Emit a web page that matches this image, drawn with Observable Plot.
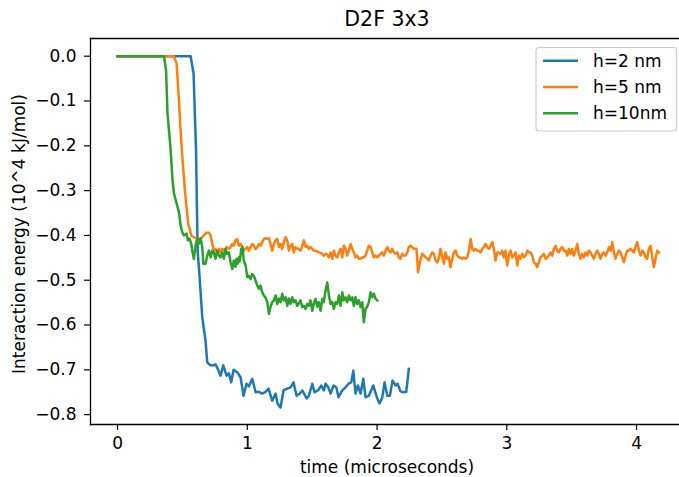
<!DOCTYPE html>
<html>
<head>
<meta charset="utf-8">
<script src="https://cdn.jsdelivr.net/npm/d3@7"></script>
<script src="https://cdn.jsdelivr.net/npm/@observablehq/plot@0.6"></script>
<style>
  html, body { margin: 0; padding: 0; background: #fff; }
  #chart { width: 679px; height: 477px; }
</style>
</head>
<body>
<div id="chart"></div>
<script>
const title = "D2F 3x3";
const xLabel = "time (microseconds)";
const yLabel = "Interaction energy (10^4 kJ/mol)";
const seriesNames = ["h=2 nm", "h=5 nm", "h=10nm"];
const seriesColors = ["#1f77b4", "#ff7f0e", "#2ca02c"];
const xTicks = [0, 1, 2, 3, 4];
const yTicks = [0.0, -0.1, -0.2, -0.3, -0.4, -0.5, -0.6, -0.7, -0.8];

// [time (µs), energy (10^4 kJ/mol)]
const h2 = [[0,0],[0.563,0],[0.586,-0.039],[0.605,-0.211],[0.617,-0.434],[0.627,-0.471],[0.653,-0.583],
[0.678,-0.635],[0.691,-0.683],[0.717,-0.690],[0.742,-0.690],[0.755,-0.688],[0.768,-0.695],[0.794,-0.713],
[0.815,-0.690],[0.840,-0.713],[0.858,-0.708],[0.876,-0.728],[0.894,-0.700],[0.925,-0.706],[0.948,-0.717],
[0.971,-0.758],[0.994,-0.731],[1.012,-0.737],[1.038,-0.720],[1.064,-0.750],[1.089,-0.749],[1.115,-0.753],
[1.141,-0.749],[1.164,-0.742],[1.192,-0.769],[1.218,-0.753],[1.233,-0.775],[1.256,-0.784],[1.279,-0.746],
[1.308,-0.742],[1.333,-0.739],[1.356,-0.728],[1.380,-0.758],[1.405,-0.753],[1.424,-0.746],[1.457,-0.764],
[1.474,-0.758],[1.501,-0.731],[1.518,-0.750],[1.544,-0.746],[1.570,-0.735],[1.590,-0.746],[1.603,-0.731],
[1.624,-0.739],[1.642,-0.753],[1.665,-0.735],[1.686,-0.739],[1.703,-0.761],[1.732,-0.746],[1.757,-0.739],
[1.780,-0.731],[1.801,-0.728],[1.817,-0.702],[1.834,-0.753],[1.852,-0.735],[1.873,-0.753],[1.894,-0.720],
[1.911,-0.761],[1.937,-0.758],[1.971,-0.735],[2.002,-0.764],[2.019,-0.775],[2.040,-0.762],[2.058,-0.728],
[2.079,-0.758],[2.099,-0.758],[2.119,-0.724],[2.143,-0.735],[2.158,-0.731],[2.181,-0.748],[2.204,-0.750],
[2.225,-0.749],[2.245,-0.698]];

const h5 = [[0,0],[0.434,0],[0.455,-0.016],[0.472,-0.092],[0.486,-0.166],[0.503,-0.240],[0.524,-0.315],
[0.545,-0.374],[0.568,-0.400],[0.588,-0.404],[0.614,-0.406],[0.640,-0.408],[0.665,-0.400],[0.686,-0.394],
[0.704,-0.394],[0.717,-0.400],[0.730,-0.419],[0.742,-0.434],[0.755,-0.430],[0.768,-0.438],[0.781,-0.430],
[0.794,-0.438],[0.807,-0.430],[0.825,-0.434],[0.840,-0.426],[0.858,-0.430],[0.871,-0.426],[0.884,-0.419],
[0.896,-0.423],[0.909,-0.411],[0.923,-0.408],[0.935,-0.423],[0.948,-0.419],[0.961,-0.426],[0.973,-0.434],
[0.987,-0.430],[1.000,-0.426],[1.012,-0.434],[1.025,-0.426],[1.038,-0.419],[1.050,-0.423],[1.064,-0.430],
[1.077,-0.426],[1.089,-0.419],[1.102,-0.423],[1.115,-0.415],[1.128,-0.408],[1.141,-0.406],[1.154,-0.408],
[1.166,-0.406],[1.179,-0.419],[1.192,-0.434],[1.205,-0.419],[1.218,-0.411],[1.231,-0.408],[1.243,-0.426],
[1.256,-0.419],[1.269,-0.430],[1.282,-0.415],[1.295,-0.404],[1.308,-0.411],[1.320,-0.434],[1.333,-0.423],
[1.346,-0.419],[1.359,-0.438],[1.372,-0.426],[1.385,-0.430],[1.397,-0.430],[1.410,-0.434],[1.424,-0.423],
[1.436,-0.411],[1.449,-0.426],[1.462,-0.423],[1.474,-0.430],[1.487,-0.426],[1.501,-0.430],[1.513,-0.434],
[1.526,-0.434],[1.539,-0.436],[1.551,-0.438],[1.565,-0.439],[1.578,-0.441],[1.590,-0.445],[1.603,-0.441],
[1.616,-0.443],[1.629,-0.449],[1.642,-0.438],[1.655,-0.452],[1.667,-0.434],[1.680,-0.445],[1.693,-0.449],
[1.706,-0.438],[1.719,-0.430],[1.732,-0.449],[1.744,-0.423],[1.757,-0.430],[1.770,-0.445],[1.783,-0.434],
[1.796,-0.419],[1.809,-0.430],[1.821,-0.438],[1.834,-0.449],[1.847,-0.445],[1.860,-0.452],[1.873,-0.452],
[1.886,-0.449],[1.898,-0.449],[1.911,-0.445],[1.924,-0.434],[1.937,-0.423],[1.950,-0.426],[1.963,-0.438],
[1.975,-0.449],[1.988,-0.445],[2.002,-0.449],[2.014,-0.445],[2.027,-0.441],[2.040,-0.438],[2.052,-0.445],
[2.066,-0.434],[2.079,-0.426],[2.091,-0.434],[2.104,-0.438],[2.117,-0.430],[2.129,-0.438],[2.143,-0.441],
[2.156,-0.438],[2.168,-0.449],[2.181,-0.452],[2.194,-0.441],[2.207,-0.445],[2.220,-0.445],[2.233,-0.438],
[2.245,-0.426],[2.258,-0.423],[2.284,-0.430],[2.304,-0.430],[2.316,-0.482],[2.330,-0.460],[2.348,-0.441],
[2.361,-0.445],[2.374,-0.449],[2.387,-0.452],[2.399,-0.456],[2.412,-0.445],[2.425,-0.438],[2.438,-0.441],
[2.451,-0.456],[2.464,-0.460],[2.476,-0.452],[2.489,-0.430],[2.503,-0.449],[2.515,-0.463],[2.528,-0.438],
[2.541,-0.452],[2.553,-0.449],[2.566,-0.471],[2.580,-0.452],[2.592,-0.438],[2.605,-0.434],[2.618,-0.445],
[2.630,-0.449],[2.644,-0.449],[2.657,-0.452],[2.669,-0.449],[2.682,-0.452],[2.695,-0.449],[2.708,-0.434],
[2.721,-0.408],[2.734,-0.430],[2.746,-0.434],[2.759,-0.430],[2.772,-0.434],[2.785,-0.434],[2.798,-0.438],
[2.811,-0.430],[2.823,-0.426],[2.836,-0.419],[2.849,-0.426],[2.862,-0.430],[2.875,-0.423],[2.888,-0.415],
[2.900,-0.430],[2.913,-0.456],[2.926,-0.438],[2.939,-0.438],[2.952,-0.441],[2.965,-0.434],[2.977,-0.449],
[2.990,-0.434],[3.003,-0.467],[3.016,-0.445],[3.029,-0.434],[3.042,-0.449],[3.054,-0.445],[3.067,-0.438],
[3.081,-0.467],[3.093,-0.445],[3.106,-0.452],[3.119,-0.441],[3.131,-0.449],[3.145,-0.445],[3.158,-0.434],
[3.170,-0.438],[3.183,-0.438],[3.196,-0.445],[3.208,-0.460],[3.222,-0.463],[3.235,-0.471],[3.247,-0.460],
[3.260,-0.449],[3.273,-0.445],[3.286,-0.441],[3.299,-0.452],[3.312,-0.449],[3.324,-0.445],[3.337,-0.438],
[3.350,-0.445],[3.363,-0.430],[3.376,-0.423],[3.389,-0.434],[3.401,-0.438],[3.414,-0.430],[3.427,-0.426],
[3.440,-0.434],[3.453,-0.434],[3.466,-0.445],[3.478,-0.430],[3.491,-0.441],[3.504,-0.430],[3.517,-0.445],
[3.530,-0.434],[3.543,-0.419],[3.555,-0.441],[3.568,-0.452],[3.581,-0.441],[3.594,-0.449],[3.607,-0.438],
[3.620,-0.445],[3.632,-0.434],[3.645,-0.438],[3.658,-0.445],[3.671,-0.452],[3.684,-0.441],[3.697,-0.434],
[3.709,-0.441],[3.723,-0.452],[3.736,-0.441],[3.748,-0.438],[3.761,-0.445],[3.774,-0.438],[3.787,-0.426],
[3.800,-0.434],[3.813,-0.415],[3.825,-0.438],[3.838,-0.452],[3.851,-0.441],[3.864,-0.434],[3.877,-0.438],
[3.890,-0.449],[3.902,-0.460],[3.915,-0.445],[3.928,-0.434],[3.941,-0.434],[3.954,-0.430],[3.967,-0.434],
[3.979,-0.438],[3.992,-0.426],[4.005,-0.415],[4.018,-0.434],[4.031,-0.445],[4.044,-0.434],[4.056,-0.438],
[4.069,-0.449],[4.082,-0.452],[4.095,-0.430],[4.108,-0.423],[4.121,-0.449],[4.133,-0.471],[4.146,-0.452],
[4.159,-0.434],[4.172,-0.438]];

const h10 = [[0,0],[0.358,0],[0.374,-0.032],[0.385,-0.128],[0.408,-0.204],[0.424,-0.278],[0.435,-0.307],
[0.459,-0.333],[0.474,-0.349],[0.486,-0.378],[0.499,-0.393],[0.511,-0.400],[0.532,-0.396],[0.542,-0.411],
[0.555,-0.407],[0.568,-0.419],[0.576,-0.434],[0.588,-0.452],[0.601,-0.423],[0.614,-0.407],[0.627,-0.418],
[0.640,-0.407],[0.653,-0.426],[0.661,-0.463],[0.678,-0.463],[0.691,-0.445],[0.704,-0.434],[0.717,-0.449],
[0.730,-0.434],[0.742,-0.438],[0.755,-0.452],[0.768,-0.434],[0.781,-0.445],[0.794,-0.449],[0.807,-0.438],
[0.819,-0.452],[0.832,-0.430],[0.845,-0.441],[0.858,-0.438],[0.871,-0.460],[0.884,-0.475],[0.896,-0.456],
[0.909,-0.470],[0.917,-0.452],[0.927,-0.463],[0.935,-0.449],[0.943,-0.458],[0.953,-0.430],[0.963,-0.426],
[0.973,-0.456],[0.987,-0.467],[1.000,-0.493],[1.012,-0.490],[1.025,-0.497],[1.038,-0.486],[1.050,-0.490],
[1.064,-0.501],[1.077,-0.512],[1.089,-0.519],[1.102,-0.512],[1.115,-0.527],[1.128,-0.534],[1.141,-0.539],
[1.154,-0.549],[1.166,-0.575],[1.179,-0.560],[1.192,-0.549],[1.205,-0.545],[1.218,-0.534],[1.231,-0.553],
[1.243,-0.541],[1.256,-0.549],[1.269,-0.530],[1.282,-0.545],[1.295,-0.538],[1.308,-0.557],[1.320,-0.541],
[1.333,-0.553],[1.346,-0.538],[1.359,-0.549],[1.372,-0.545],[1.385,-0.557],[1.397,-0.552],[1.410,-0.545],
[1.424,-0.560],[1.436,-0.557],[1.449,-0.564],[1.462,-0.553],[1.474,-0.557],[1.487,-0.545],[1.501,-0.568],
[1.513,-0.552],[1.526,-0.542],[1.539,-0.559],[1.551,-0.549],[1.565,-0.568],[1.578,-0.542],[1.590,-0.549],
[1.603,-0.523],[1.616,-0.505],[1.629,-0.534],[1.642,-0.553],[1.655,-0.549],[1.667,-0.564],[1.680,-0.549],
[1.693,-0.553],[1.706,-0.534],[1.719,-0.557],[1.732,-0.527],[1.744,-0.545],[1.757,-0.538],[1.770,-0.549],
[1.783,-0.534],[1.796,-0.545],[1.809,-0.538],[1.821,-0.557],[1.834,-0.538],[1.847,-0.553],[1.860,-0.545],
[1.873,-0.560],[1.886,-0.549],[1.898,-0.594],[1.911,-0.564],[1.924,-0.559],[1.937,-0.549],[1.950,-0.527],
[1.963,-0.538],[1.975,-0.530],[1.988,-0.541],[2.002,-0.545]];

const seriesData = [h2, h5, h10];
const rows = seriesData.flatMap((s, i) => s.map(([t, e]) => ({series: seriesNames[i], t, e})));

const W = 679, H = 477;
const fontFamily = "DejaVu Sans, sans-serif";
const fs = "17px";

const chart = Plot.plot({
  width: W,
  height: H,
  marginLeft: 90,
  marginRight: 0,
  marginTop: 38,
  marginBottom: 53,
  style: {fontFamily, fontSize: fs, color: "#000", background: "#fff", overflow: "visible"},
  x: {domain: [-0.2085, 4.331], ticks: xTicks, tickFormat: d3.format("d"), label: null},
  y: {domain: [-0.822, 0.0395], ticks: yTicks, tickFormat: d3.format(".1f"), label: null},
  color: {domain: seriesNames, range: seriesColors},
  marks: [
    Plot.line(rows, {x: "t", y: "e", z: "series", stroke: "series", strokeWidth: 2.5, strokeLinejoin: "round", strokeLinecap: "square"}),
    Plot.axisX({ticks: xTicks, tickFormat: d3.format("d"), tickSize: 6, tickPadding: 6, label: null, stroke: "#000", strokeWidth: 1.2, fontSize: 17}),
    Plot.axisY({ticks: yTicks, tickFormat: d3.format(".1f"), tickSize: 6, tickPadding: 8, label: null, stroke: "#000", strokeWidth: 1.2, fontSize: 17}),
    Plot.frame({anchor: "left", stroke: "#000", strokeWidth: 1.3}),
    Plot.frame({anchor: "top", stroke: "#000", strokeWidth: 1.3}),
    Plot.frame({anchor: "bottom", stroke: "#000", strokeWidth: 1.3})
  ]
});

document.getElementById("chart").appendChild(chart);
const svg = d3.select(chart);

// Title
svg.append("text")
  .attr("x", 387).attr("y", 19)
  .attr("text-anchor", "middle").attr("dominant-baseline", "central")
  .attr("font-family", fontFamily).attr("font-size", "20.5px").attr("fill", "#000")
  .text(title);

// Axis labels
svg.append("text")
  .attr("x", 387).attr("y", 467)
  .attr("text-anchor", "middle").attr("dominant-baseline", "central")
  .attr("font-family", fontFamily).attr("font-size", fs).attr("fill", "#000")
  .text(xLabel);
svg.append("text")
  .attr("transform", "translate(18.5,234) rotate(-90)")
  .attr("text-anchor", "middle").attr("dominant-baseline", "central")
  .attr("font-family", fontFamily).attr("font-size", fs).attr("fill", "#000")
  .text(yLabel);

// Legend
const lg = svg.append("g");
lg.append("rect")
  .attr("x", 536).attr("y", 47.5).attr("width", 140.5).attr("height", 83.5)
  .attr("rx", 3).attr("fill", "#fff").attr("fill-opacity", 0.8)
  .attr("stroke", "#cccccc").attr("stroke-width", 1.2);
seriesNames.forEach((name, i) => {
  const cy = 60.7 + i * 26.3;
  lg.append("line").attr("x1", 543).attr("x2", 578).attr("y1", cy).attr("y2", cy)
    .attr("stroke", seriesColors[i]).attr("stroke-width", 2.5);
  lg.append("text").attr("x", 593).attr("y", cy)
    .attr("text-anchor", "start").attr("dominant-baseline", "central")
    .attr("font-family", fontFamily).attr("font-size", fs).attr("fill", "#000")
    .text(name);
});
</script>
</body>
</html>
